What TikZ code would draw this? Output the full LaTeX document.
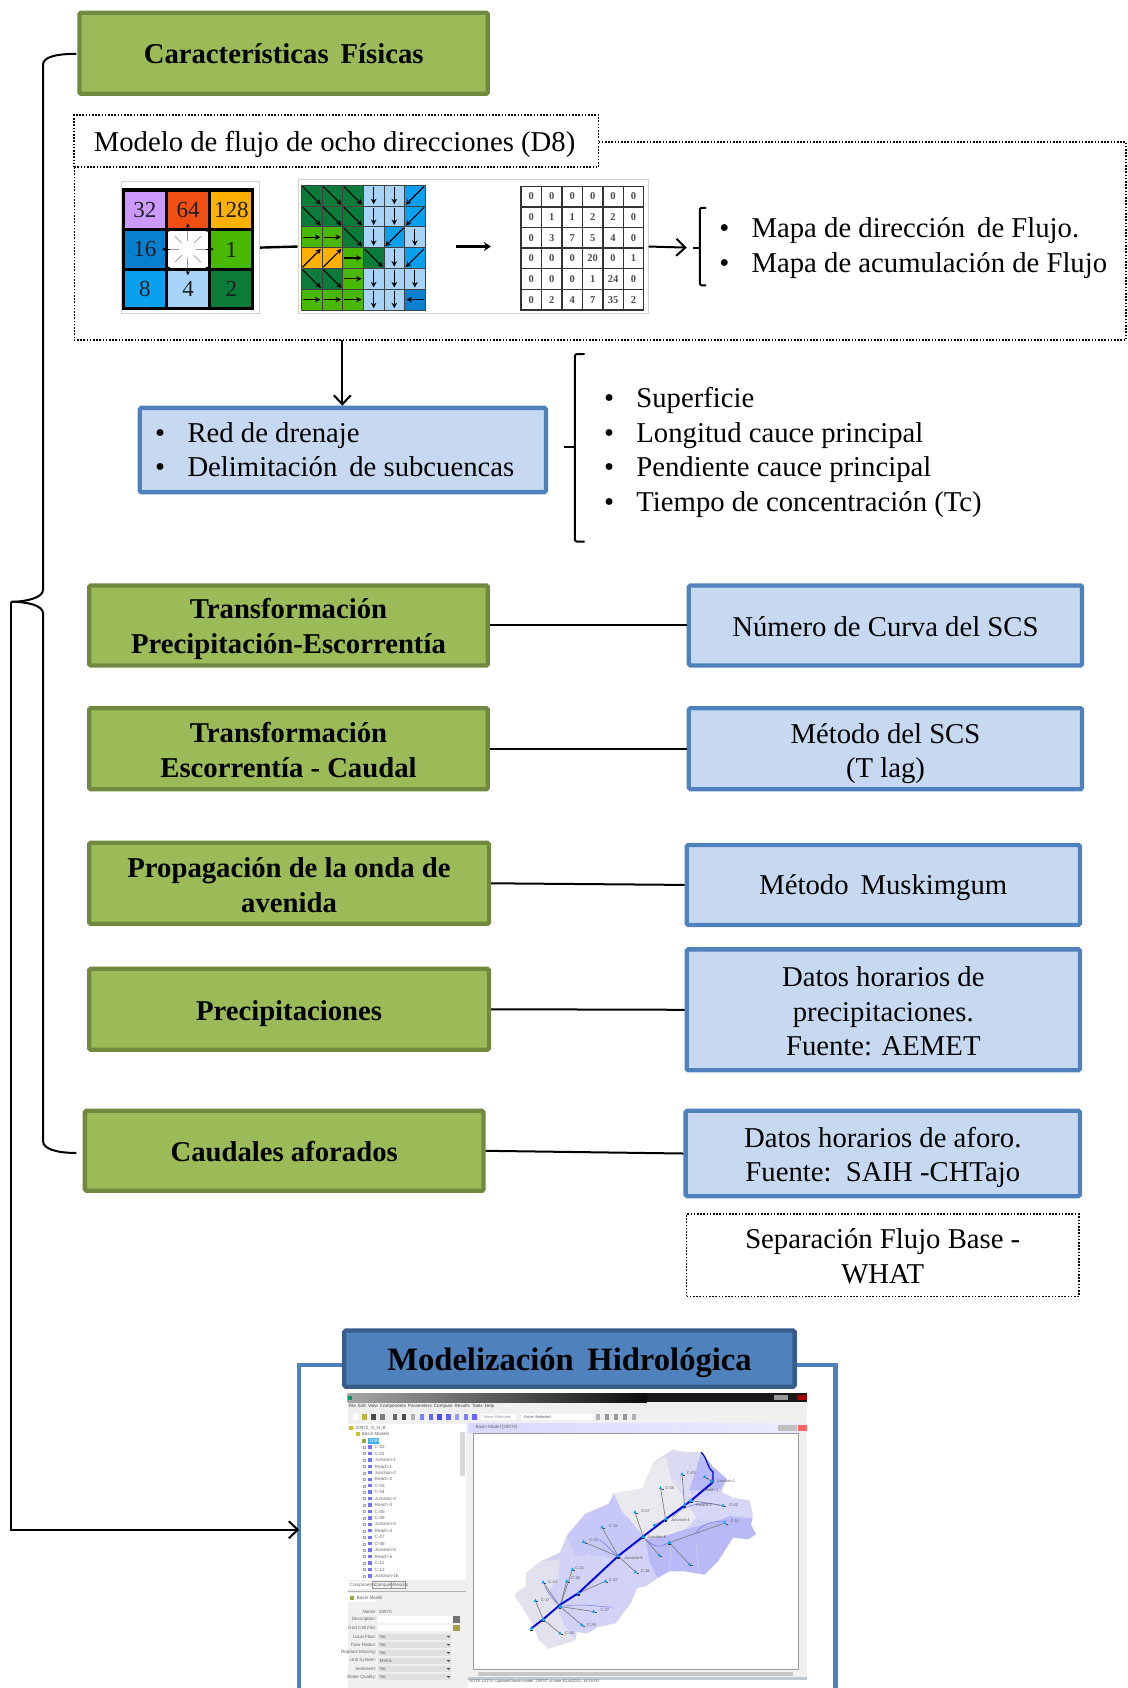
\documentclass[tikz,border=0pt]{standalone}
\usepackage{fontspec}
\setmainfont{Liberation Serif}
\newfontfamily\uisans{Liberation Sans}
\usetikzlibrary{arrows.meta}
\definecolor{grfill}{HTML}{9BBB59}
\definecolor{grline}{HTML}{71893F}
\definecolor{blfill}{HTML}{C6D9F1}
\definecolor{blline}{HTML}{4F81BD}
\definecolor{tline}{HTML}{385D8A}
\definecolor{cd45}{HTML}{0B7B3A}
\definecolor{cd90}{HTML}{A6D3F7}
\definecolor{cd135}{HTML}{0AA0F0}
\definecolor{cd0}{HTML}{48B800}
\definecolor{cd-45}{HTML}{FFB000}
\definecolor{cd180}{HTML}{0880D0}
\definecolor{cpur}{HTML}{CC99FF}
\definecolor{cred}{HTML}{F04E12}
\definecolor{bsbase}{HTML}{D2D2F6}
\definecolor{bsgray}{HTML}{E9E9EE}
\definecolor{bslil}{HTML}{DADAF3}
\definecolor{bsdark}{HTML}{B9B9F8}
\definecolor{bsmid}{HTML}{C8C8F8}
\definecolor{bsbot}{HTML}{E2E2EE}
\tikzset{
  ltxt/.style={font=\fontsize{28.7}{34.4}\selectfont,anchor=base west,inner sep=0pt,yshift=-9.6pt},
  greenbox/.style={draw=grline,fill=grfill,line width=4.3pt,rounded corners=1.5pt,inner sep=0pt,align=center,font=\fontsize{28.7}{34.4}\selectfont\bfseries},
  bluebox/.style={draw=blline,fill=blfill,line width=4.3pt,rounded corners=1.5pt,inner sep=0pt,align=center,font=\fontsize{28.7}{34.4}\selectfont},
  dotbox/.style={draw=black,line width=1.5pt,dash pattern=on 1.6pt off 1.6pt,inner sep=0pt,align=center,font=\fontsize{28.7}{34.4}\selectfont},
  titlebox/.style={draw=tline,fill=blline,line width=4.3pt,rounded corners=1.5pt,inner sep=0pt,align=center,font=\fontsize{32.6}{36}\selectfont\bfseries},
  frameb/.style={draw=black!18,line width=.8pt,inner sep=0pt},
  conn/.style={draw=black,line width=2pt},
  openarrow/.style={conn,-{Straight Barb[length=9pt,width=17pt,line width=2pt]}},
  dotline/.style={draw=black,line width=1.5pt,dash pattern=on 1.6pt off 1.6pt},
  uit/.style={font=\fontsize{4.6}{5}\selectfont\uisans,text=black!60,anchor=west,inner sep=0pt},
  uib/.style={font=\fontsize{4}{5}\selectfont\uisans,text=black!65,anchor=west,inner sep=0pt},
}
% box given by its outer corners; its text is a node of its own, lowered by #1 pt
\newcommand{\bx}[8][3]{%
  \pgfmathsetmacro{\bw}{(#6-#4)*1.0764-4}%
  \pgfmathsetmacro{\bh}{(#7-#5)*1.0764-4}%
  \node[#3,minimum width=\bw pt,minimum height=\bh pt] (#2) at ({(#4+#6)/2},{(#5+#7)/2}) {};
  \node[#3,draw=none,fill=none,yshift=-#1pt] (#2t) at (#2.center) {#8};}
\begin{document}
\begin{tikzpicture}[x=1.0764pt,y=-1.0764pt]
\useasboundingbox (0,0) rectangle (1047,1568);
\fill[white] (0,0) rectangle (1047,1568);

% ----- green boxes
\bx[0]{cf}{greenbox}{72}{10}{455}{89}{Características\, Físicas}
\bx[3.5]{tp}{greenbox}{81}{542}{455}{620}{Transformación\\Precipitación-Escorrentía}
\bx[1.5]{te}{greenbox}{81}{656}{455}{735}{Transformación\\Escorrentía - Caudal}
\bx[2]{po}{greenbox}{81}{781}{456}{860}{Propagación de la onda de\\avenida}
\bx[4]{pr}{greenbox}{81}{898}{456}{977}{Precipitaciones}
\bx[1]{ca}{greenbox}{77}{1030}{451}{1108}{Caudales aforados}

% ----- blue boxes
\bx{red}{bluebox}{128}{377}{509}{459}{}
\bx[1]{nc}{bluebox}{638}{542}{1007}{620}{Número de Curva del SCS}
\bx[5]{ms}{bluebox}{638}{656}{1007}{735}{Método del SCS\\(T lag)}
\bx[3]{mm}{bluebox}{636}{783}{1005}{861}{Método\, Muskimgum}
\bx[1.5]{dh}{bluebox}{636}{880}{1005}{996}{Datos horarios de\\precipitaciones.\\Fuente: AEMET}
\bx[4]{da}{bluebox}{635}{1030}{1005}{1113}{Datos horarios de aforo.\\Fuente:\, SAIH -CHTajo}
\bx[1]{sf}{dotbox}{636}{1126}{1004}{1206}{Separación Flujo Base -\\WHAT}

\node[ltxt] (b1) at (144,402) {•};
\node[ltxt] (l1) at (174,402) {Red de drenaje};
\node[ltxt] (b2) at (144,434) {•};
\node[ltxt] (l2) at (174,434) {Delimitación\, de subcuencas};

% ----- horizontal connectors
\draw[conn] (tp.east) -- (nc.west);
\draw[conn] (te.east) -- (ms.west);
\draw[conn] (po.east) -- (mm.west);
\draw[conn] (pr.east) -- (dh.west);
\draw[conn] (ca.east) -- (da.west);

% ----- dotted frame
\coordinate (dTL) at (69,155);
\coordinate (dR1) at (556,132);
\coordinate (dTR) at (1046,132);
\coordinate (dBR) at (1046,316);
\coordinate (dBL) at (69,316);
\coordinate (dArr) at (318,316);
\draw[dotline] (dR1) -- (dTR) -- (dBR) -- (dBL) -- (dTL);
\bx{mf}{dotbox}{67}{105}{558}{157}{}
\node[ltxt] (mft) at (87,132) {Modelo de flujo de ocho direcciones (D8)};
\draw[openarrow] (dArr) -- (red.north -| dArr);

% ----- D8 picture frames
\bx{f1}{frameb}{111}{167}{243}{293}{}
\bx{f2}{frameb}{275}{165}{604}{293}{}
\draw[black,line width=2.4pt] (f1.east) -- (f2.west);

% grid 1
\begin{scope}
\fill[black] (113,175) rectangle (236,288);
\foreach \i/\j/\c/\t in {0/0/cpur/32,1/0/cred/64,2/0/cd-45/128,0/1/cd180/16,1/1/white/,2/1/cd0/1,0/2/cd135/8,1/2/cd90/4,2/2/cd45/2}{
  \fill[\c] ({116+\i*40.2},{178+\j*36.7}) rectangle ({116+\i*40.2+37},{178+\j*36.7+34});
  \node[font=\fontsize{23}{24}\selectfont,inner sep=0pt,text=black!88] (g\i\j) at ({116+\i*40.2+18.5},{178+\j*36.7+17}) {\t};
}
\foreach \a in {0,45,...,315}{
  \draw[black!40,line width=.8pt] ({174.5+cos(\a)*8},{231.5+sin(\a)*8}) -- ({174.5+cos(\a)*17},{231.5+sin(\a)*17});
}
\foreach \a in {0,90,180,270}{
  \draw[black,line width=.8pt,-{Stealth[length=4pt,width=4pt]}] ({174.5+cos(\a)*17},{231.5+sin(\a)*17}) -- ({174.5+cos(\a)*24},{231.5+sin(\a)*24});
}
\foreach \a in {45,135,225,315}{
  \fill[black] ({174.5+cos(\a)*25},{231.5+sin(\a)*25}) circle (1.6);
}
\end{scope}

% grid 2: flow directions
\foreach \row [count=\r from 0] in {{45,45,45,90,90,135},{45,45,45,90,90,135},{0,0,45,90,135,90},{-45,-45,0,45,90,135},{45,45,0,90,90,90},{0,0,0,90,90,180}}{
  \foreach \d [count=\c from 0] in \row {
    \pgfmathsetmacro{\cx}{280+\c*19.17+9.58}
    \pgfmathsetmacro{\cy}{172+\r*19.33+9.66}
    \pgfmathsetmacro{\len}{abs(cos(\d)*sin(\d))>0.1?24:16}
    \fill[cd\d] ({\cx-9.58},{\cy-9.66}) rectangle ({\cx+9.58},{\cy+9.66});
    \draw[black!75,line width=.6pt] ({\cx-9.58},{\cy-9.66}) rectangle ({\cx+9.58},{\cy+9.66});
    \draw[black,line width=1.1pt,-{Stealth[length=5.5pt,width=5.5pt]}] (\cx,\cy) ++(\d+180:\len/2) -- ++(\d:\len);
  }
}

\coordinate (ta) at (424,229);
\coordinate (tb) at (456,229);
\draw[black,line width=2.6pt,-{Stealth[length=7pt,width=9pt]}] (ta) -- (tb);

% grid 3: accumulation
\fill[white] (484,173) rectangle (598,288);
\foreach \row [count=\r from 0] in {{0,0,0,0,0,0},{0,1,1,2,2,0},{0,3,7,5,4,0},{0,0,0,20,0,1},{0,0,0,1,24,0},{0,2,4,7,35,2}}{
  \foreach \v [count=\c from 0] in \row {
    \pgfmathsetmacro{\cx}{484+\c*19+9.5}
    \pgfmathsetmacro{\cy}{173+\r*19.17+9.58}
    \draw[black!80,line width=1.3pt] ({\cx-9.5},{\cy-9.58}) rectangle ({\cx+9.5},{\cy+9.58});
    \node[font=\fontsize{10.5}{11}\selectfont\bfseries,text=black!70,inner sep=0pt] (n\r\c) at (\cx,\cy) {\v};
  }
}

% ----- brace + list of the maps
\coordinate (tipA) at (638,230);
\draw[openarrow] (f2.east) -- (tipA);
\draw[black,line width=2pt,rounded corners=1.5pt] (656,193) -- (650,193) -- (650,265) -- (656,265);
\draw[black,line width=2pt] (644,230) -- (650,230);
\node[ltxt] (b3) at (668,212) {•};
\node[ltxt] (l3) at (698,212) {Mapa de dirección\, de Flujo.};
\node[ltxt] (b4) at (668,244) {•};
\node[ltxt] (l4) at (698,244) {Mapa de acumulación de Flujo};

% ----- brace + list of the basin
\coordinate (tipB) at (524,415);
\draw[black,line width=2pt,rounded corners=1.5pt] (543,329) -- (534,329) -- (534,503) -- (543,503);
\draw[black,line width=2pt] (tipB) -- (534,415);
\node[ltxt] (b5) at (561,370) {•};
\node[ltxt] (l5) at (591,370) {Superficie};
\node[ltxt] (b6) at (561,402) {•};
\node[ltxt] (l6) at (591,402) {Longitud cauce principal};
\node[ltxt] (b7) at (561,434) {•};
\node[ltxt] (l7) at (591,434) {Pendiente cauce principal};
\node[ltxt] (b8) at (561,466) {•};
\node[ltxt] (l8) at (591,466) {Tiempo de concentración (Tc)};

% ----- big left brace and arrow
\coordinate (tipC) at (10,559);
\draw[black,line width=2pt] (71,50) .. controls (52,50) and (40,53) .. (40,60) -- (40,548) .. controls (40,555) and (25,559) .. (tipC);
\draw[black,line width=2pt] (tipC) .. controls (25,559) and (40,562) .. (40,570) -- (40,1060) .. controls (40,1067) and (52,1071) .. (71,1071);

% ----- model frame
\draw[draw=blline,line width=4.3pt] (278,1575) -- (278,1268) -- (776,1268) -- (776,1575);
\bx[4]{mh}{titlebox}{318}{1234}{740}{1290}{Modelización\, Hidrológica}
\coordinate (frL) at (278,1421);
\draw[openarrow] (tipC) -- (10,1421) -- (frL);

% ----- HEC-HMS window (in its own small coordinates)
\begin{scope}[shift={(289.4pt,-1319.7pt)},x=.3574pt,y=-.3355pt]
\fill[black!6] (163,218) rectangle (1448,1100);
\shade[left color=black!35,right color=black!95] (163,218) rectangle (1000,245);
\fill[black!90] (1000,218) rectangle (1448,245);
\fill[black!40] (1355,224) rectangle (1395,240);
\fill[red!65!black] (1420,224) rectangle (1448,240);
\fill[green!60!blue] (165,226) rectangle (176,240);
\node[uit,text=black!75] (mn) at (165,257) {File\, Edit\, View\, Components\, Parameters\, Compute\, Results\, Tools\, Help};
% toolbar
\foreach \x/\c in {185/white,210/yellow!70!black,235/black!70,260/black!50,296/black!60,321/black!70,346/black!30,371/blue!50,396/blue!60,420/blue!70,445/blue!60,469/blue!40,494/blue!50,518/blue!60,864/black!30,888/black!40,913/black!40,938/black!40,963/black!30}{
  \fill[\c] ({\x-6},281) rectangle ({\x+6},297);
}
\fill[white] (535,280) rectangle (635,298);
\fill[white] (648,280) rectangle (850,298);
\node[uib,text=black!45] (ns1) at (540,289) {-None Selected-};
\node[uib] (ns2) at (653,289) {-None Selected-};
% tree panel
\fill[white] (163,310) rectangle (495,775);
\fill[black!15] (478,335) rectangle (492,465);
\fill[yellow!75!black] (168,316) rectangle (178,328);
\node[uit] (tr0) at (185,322) {20970\_S\_H\_B};
\fill[yellow!75!black] (185,335) rectangle (197,347);
\node[uit] (tr1) at (202,341) {Basin Models};
\fill[yellow!60!black] (203,354) rectangle (215,366);
\fill[cd135!80] (220,351) rectangle (250,369);
\node[uit,text=white] (tr2) at (224,360) {20970};
\foreach \t [count=\k from 0] in {C-02,C-01,Junction-1,Reach-1,Junction-2,Reach-2,C-03,C-04,Junction-3,Reach-3,C-05,C-06,Junction-4,Reach-4,C-07,C-08,Junction-5,Reach-5,C-11,C-12,Junction-16}{
  \pgfmathsetmacro{\yy}{379+\k*19.2}
  \draw[black!35,line width=.3pt] (205,{\yy-3}) rectangle (212,{\yy+3});
  \fill[blue!55] (220,{\yy-5}) rectangle (232,{\yy+5});
  \node[uit] (tn\k) at (238,\yy) {\t};
}
% tabs
\fill[white] (163,780) rectangle (230,802);
\node[uit] (tb1) at (168,791) {Components};
\draw[black!40,line width=.4pt] (232,780) rectangle (285,800);
\node[uit] (tb2) at (237,790) {Compute};
\draw[black!40,line width=.4pt] (285,780) rectangle (325,800);
\node[uit] (tb3) at (289,790) {Results};
\draw[black!30,line width=.5pt] (163,810) -- (495,810);
% properties
\fill[white!70!black!4] (165,815) rectangle (245,842);
\fill[yellow!60!black] (170,822) rectangle (182,834);
\node[uit] (pb) at (188,828) {Basin Model};
\node[uit,anchor=east] (p0) at (243,869) {Name:};
\node[uit] (p0v) at (250,869) {20970};
\foreach \t/\y in {Description:/892,Grid Cell File:/918}{
  \fill[white] (248,{\y-10}) rectangle (455,{\y+10});
  \node[uit,anchor=east] at (243,\y) {\t};
}
\fill[black!55] (458,884) rectangle (476,902);
\fill[yellow!60!black] (458,910) rectangle (476,928);
\foreach \t/\v/\y in {Local Flow:/No/944,Flow Ratios:/No/968,Replace Missing:/No/992,Unit System:/Metric/1016,Sediment:/No/1040,Water Quality:/No/1064}{
  \fill[black!12] (248,{\y-9}) rectangle (452,{\y+9});
  \fill[black!70] (440,{\y-2}) -- (450,{\y-2}) -- (445,{\y+3}) -- cycle;
  \node[uit,anchor=east] at (243,\y) {\t};
  \node[uit] at (252,\y) {\v};
}
% right panel
\shade[left color=blue!15,right color=blue!8] (500,310) rectangle (1448,335);
\node[uit] (bm) at (520,321) {Basin Model [20970]};
\fill[red!60] (1422,313) rectangle (1448,330);
\fill[black!25] (1368,313) rectangle (1420,330);
\fill[white] (513,338) rectangle (1423,1040);
\draw[black!40,line width=.5pt] (513,338) rectangle (1423,1040);
\fill[black!22] (528,1048) rectangle (1408,1060);
\fill[cyan!30!black!30] (500,1065) rectangle (1448,1072);
\fill[white] (500,1072) rectangle (1448,1100);
\node[uib] (st) at (503,1079) {NOTE 10174: Updated basin model "20970" at time 30Jul2015, 18:18:00.};
\end{scope}

% ----- basin map (in its own small coordinates)
\begin{scope}[shift={(497.7pt,-1428pt)},x=.3363pt,y=-.3364pt]
\fill[bsbase,draw=black!12,line width=.3pt] (605,72)--(640,115)--(680,150)--(665,190)--(700,208)--(748,215)--(758,260)--(752,285)--(767,315)--(745,330)--(700,325)--(680,355)--(655,395)--(615,435)--(555,425)--(510,425)--(475,445)--(440,470)--(415,475)--(395,520)--(350,580)--(300,590)--(265,610)--(235,605)--(230,630)--(150,655)--(120,625)--(110,590)--(50,495)--(85,470)--(85,430)--(130,395)--(185,370)--(205,320)--(260,255)--(330,225)--(345,195)--(430,180)--(465,100)--(520,65)--(560,72)--cycle;
\fill[bslil] (465,100)--(520,65)--(560,72)--(605,72)--(570,185)--(580,210)--(555,210)--(515,150)--(500,85)--cycle;
\fill[bsgray] (345,195)--(430,180)--(465,100)--(500,85)--(515,150)--(555,210)--(590,265)--(560,300)--(500,320)--(440,330)--(390,270)--(370,250)--cycle;
\fill[bsdark] (605,72)--(640,115)--(680,150)--(665,180)--(610,185)--(570,185)--cycle;
\fill[bsbase!90!white] (570,215)--(665,190)--(700,208)--(748,215)--(758,262)--(690,262)--(640,280)--(590,265)--cycle;
\fill[bsdark] (440,330)--(500,320)--(560,300)--(640,280)--(690,262)--(758,268)--(752,285)--(767,315)--(745,330)--(700,325)--(680,355)--(655,395)--(615,435)--(555,425)--(510,425)--(475,445)--(450,395)--cycle;
\fill[bsmid] (205,320)--(260,255)--(330,225)--(345,195)--(370,250)--(390,270)--(440,330)--(385,360)--(345,385)--(270,375)--(230,380)--cycle;
\fill[bsbot] (50,495)--(85,470)--(85,430)--(130,395)--(185,390)--(180,440)--(150,490)--(175,530)--(200,590)--(230,630)--(150,655)--(120,625)--(110,590)--cycle;
% sub-basin outlines
\draw[black!12,line width=.3pt] (180,440)--(230,380) (270,375)--(250,460)--(240,490) (345,385)--(400,470) (510,425)--(515,350) (600,435)--(590,345) (205,320)--(195,370) (300,590)--(290,540);
% thin streams
\draw[blue!55,line width=.5pt] (440,330) .. controls (480,370) and (500,340) .. (510,340) (590,310) .. controls (620,270) and (660,280) .. (680,275) (520,265) .. controls (550,225) and (620,215) .. (670,232) (140,470) .. controls (160,510) and (170,510) .. (185,530) (185,530) .. controls (260,520) and (290,530) .. (340,532) (300,330) .. controls (330,350) and (340,370) .. (358,380);
% links to sub-basins
\foreach \ax/\ay/\bx/\by in {548/137/555/225,484/178/498/265,408/250/432/322,310/295/358/380,255/338/355/380,675/282/510/340,670/230/575/215,570/405/510/340,410/428/358/380,320/455/240/490,222/420/185/530,205/455/185/530,135/458/185/530,285/545/185/530,250/585/185/530,112/513/135/568,185/610/135/568,480/378/432/322,615/145/636/158,465/288/500/270}{
  \draw[black!50,line width=.7pt] (\ax,\ay) -- (\bx,\by);
  \fill[cd135] ({\ax-5},{\ay+3}) -- (\ax,{\ay-6}) -- ({\ax+5},{\ay+3}) -- cycle;
  \fill[black!70] ({\ax+3},{\ay+2}) rectangle ({\ax+9},{\ay+5});
}
% main river
\draw[blue!90!black,line width=1.2pt,line cap=round] (605,72) .. controls (625,90) and (620,115) .. (640,130) -- (640,160);
\draw[blue!90!black,line width=1.9pt,line cap=round] (640,160) -- (575,215) -- (500,270) -- (432,322) -- (358,380) -- (240,490) -- (185,525) -- (135,568) -- (100,595);
% junctions
\foreach \hx/\hy in {636/158,575/215,555/228,500/270,432/322,510/340,358/380,240/490,185/530,135/568,100/595}{
  \fill[cd135] ({\hx-6},{\hy+4}) -- (\hx,{\hy-7}) -- ({\hx+6},{\hy+4}) -- cycle;
  \fill[black!80] ({\hx-3},{\hy+4}) rectangle ({\hx+4},{\hy+8});
}
% labels
\foreach \t/\x/\y in {C-03/562/134,C-05/498/177,C-07/426/246,C-15/330/290,C-22/272/333,C-02/688/228,C-11/692/276,C-21/230/417,C-26/218/447,C-24/150/457,C-22/330/452,C-17/128/510,C-27/305/542,C-29/265/585,C-34/200/608,C-18/425/425,Junction-1/650/158,Reach-1/610/185,Reach-2/590/228,Junction-4/515/272,Junction-6/445/325,Junction-9/375/385}{
  \node[uib] at (\x,\y) {\t};
}
\end{scope}
\end{tikzpicture}
\end{document}
